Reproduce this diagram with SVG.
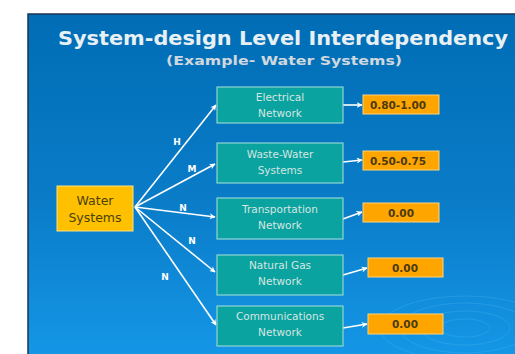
<svg xmlns="http://www.w3.org/2000/svg" width="515" height="354" viewBox="0 0 515 354">
<defs>
<linearGradient id="bg" x1="0" y1="0" x2="0" y2="1">
<stop offset="0" stop-color="#006db5"/>
<stop offset="0.55" stop-color="#0a7cc8"/>
<stop offset="1" stop-color="#1496e6"/>
</linearGradient>
<marker id="ah" viewBox="0 0 10 10" refX="9" refY="5" markerWidth="6" markerHeight="6" orient="auto" markerUnits="userSpaceOnUse">
<path d="M0,0 L10,5 L0,10 L3,5 Z" fill="#ffffff"/>
</marker>
<style>
.teal{fill:#0aa39f;stroke:#8fd6d4;stroke-width:1.2}
.val{fill:#ffa500;stroke:#ffd27a;stroke-width:1}
.tt{font-family:"DejaVu Sans",Verdana,sans-serif;font-size:10.5px;fill:#d6e6e2;text-anchor:middle}
.vt{font-family:"DejaVu Sans",Verdana,sans-serif;font-size:10.5px;font-weight:bold;fill:#4a3a10;text-anchor:middle}
.lbl{font-family:"DejaVu Sans",Verdana,sans-serif;font-size:9px;font-weight:bold;fill:#ffffff;text-anchor:middle}
.ln{stroke:#ffffff;stroke-width:1.6;fill:none;marker-end:url(#ah)}
</style>
</defs>
<rect x="0" y="0" width="515" height="354" fill="#ffffff"/>
<rect x="28" y="14" width="487" height="340" fill="url(#bg)"/>
<path d="M28,354 L28,14 L515,14" fill="none" stroke="#1c3550" stroke-width="1.5"/>
<g fill="none" stroke="#5cc0f5" stroke-opacity="0.25" stroke-width="1">
<ellipse cx="465" cy="328" rx="25" ry="9"/>
<ellipse cx="465" cy="328" rx="45" ry="17"/>
<ellipse cx="465" cy="328" rx="65" ry="25"/>
<ellipse cx="465" cy="328" rx="85" ry="32"/>
</g>
<text x="283" y="45" font-family="DejaVu Sans,Verdana,sans-serif" font-size="19" font-weight="bold" fill="#e8f0f4" text-anchor="middle" textLength="450" lengthAdjust="spacingAndGlyphs">System-design Level Interdependency</text>
<text x="284" y="65" font-family="DejaVu Sans,Verdana,sans-serif" font-size="13" font-weight="bold" fill="#d0d8de" text-anchor="middle" textLength="236" lengthAdjust="spacingAndGlyphs">(Example- Water Systems)</text>
<g id="connectors">
<line class="ln" x1="135" y1="207" x2="216" y2="105"/>
<line class="ln" x1="135" y1="207" x2="215" y2="164"/>
<line class="ln" x1="135" y1="207" x2="215" y2="217"/>
<line class="ln" x1="135" y1="207" x2="215" y2="272"/>
<line class="ln" x1="135" y1="207" x2="216" y2="325"/>
<line class="ln" x1="343" y1="105" x2="362" y2="105"/>
<line class="ln" x1="343" y1="162" x2="362" y2="160"/>
<line class="ln" x1="343" y1="219" x2="362" y2="212"/>
<line class="ln" x1="343" y1="275" x2="367" y2="268"/>
<line class="ln" x1="343" y1="328" x2="367" y2="324"/>
<text class="lbl" x="177" y="145">H</text>
<text class="lbl" x="192" y="172">M</text>
<text class="lbl" x="183" y="211">N</text>
<text class="lbl" x="192" y="244">N</text>
<text class="lbl" x="165" y="280">N</text>
</g>
<g id="water">
<rect x="57" y="186" width="76" height="45" fill="#ffc000" stroke="#ffe080" stroke-width="1"/>
<text x="95" y="205" font-family="DejaVu Sans,Verdana,sans-serif" font-size="12.5" fill="#4a4208" text-anchor="middle">Water</text>
<text x="95" y="222" font-family="DejaVu Sans,Verdana,sans-serif" font-size="12.5" fill="#4a4208" text-anchor="middle">Systems</text>
</g>
<g id="electrical">
<rect class="teal" x="217" y="87" width="126" height="36"/>
<text class="tt" x="280" y="101">Electrical</text>
<text class="tt" x="280" y="117">Network</text>
</g>
<g id="wastewater">
<rect class="teal" x="217" y="143" width="126" height="40"/>
<text class="tt" x="280" y="158">Waste-Water</text>
<text class="tt" x="280" y="174">Systems</text>
</g>
<g id="transportation">
<rect class="teal" x="217" y="198" width="126" height="41"/>
<text class="tt" x="280" y="213">Transportation</text>
<text class="tt" x="280" y="229">Network</text>
</g>
<g id="naturalgas">
<rect class="teal" x="217" y="255" width="126" height="40"/>
<text class="tt" x="280" y="269">Natural Gas</text>
<text class="tt" x="280" y="285">Network</text>
</g>
<g id="communications">
<rect class="teal" x="217" y="306" width="126" height="40"/>
<text class="tt" x="280" y="320">Communications</text>
<text class="tt" x="280" y="336">Network</text>
</g>
<g id="v1"><rect class="val" x="363" y="95" width="76" height="19"/><text class="vt" x="398" y="108.5">0.80-1.00</text></g>
<g id="v2"><rect class="val" x="363" y="151" width="76" height="19"/><text class="vt" x="398" y="164.5">0.50-0.75</text></g>
<g id="v3"><rect class="val" x="363" y="203" width="76" height="19"/><text class="vt" x="401" y="216.5">0.00</text></g>
<g id="v4"><rect class="val" x="368" y="258" width="75" height="19"/><text class="vt" x="405" y="271.5">0.00</text></g>
<g id="v5"><rect class="val" x="368" y="314" width="75" height="20"/><text class="vt" x="405" y="328">0.00</text></g>
</svg>
